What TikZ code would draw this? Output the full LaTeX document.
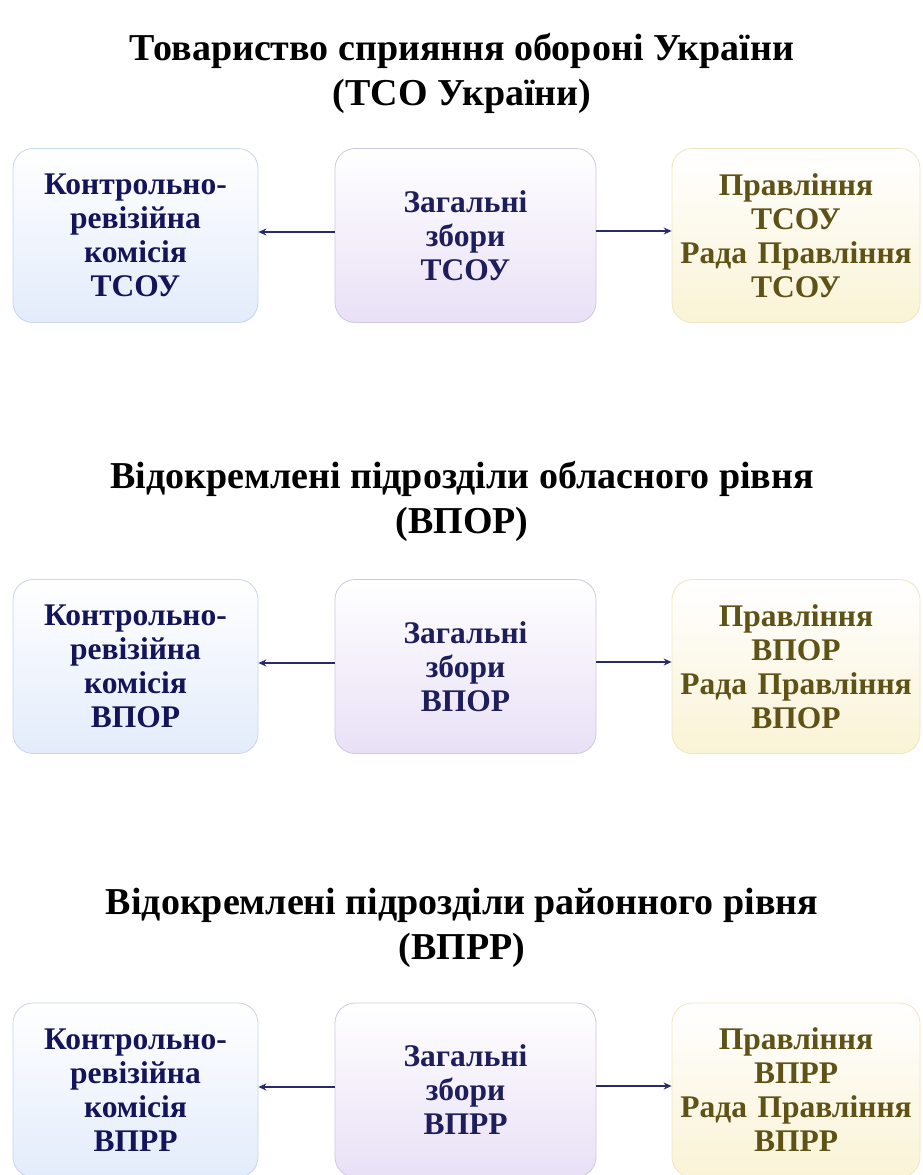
\documentclass[tikz,border=0pt]{standalone}
\usepackage{fontspec}
\setmainfont{Liberation Serif}
\usetikzlibrary{arrows.meta}
\definecolor{bluetxt}{HTML}{14145A}
\definecolor{midtxt}{HTML}{1E1E5C}
\definecolor{oltxt}{HTML}{5E5216}
\definecolor{arrowc}{HTML}{2A2A6A}
\definecolor{lbot}{HTML}{E3ECFB}
\definecolor{ldraw}{HTML}{C9D5E9}
\definecolor{mbot}{HTML}{E9E0F6}
\definecolor{mdraw}{HTML}{D0C8DF}
\definecolor{rbot}{HTML}{FAF3D6}
\definecolor{rdraw}{HTML}{EEE6C2}
\tikzset{
  box/.style={draw, rounded corners=20pt, line width=0.8pt, minimum height=174pt,
    align=center, font=\fontsize{31.5}{34}\selectfont\bfseries, inner sep=0pt},
  lbox/.style={box, minimum width=245pt, text width=245pt, top color=white, bottom color=lbot, draw=ldraw, text=bluetxt},
  mbox/.style={box, minimum width=261pt, text width=261pt, top color=white, bottom color=mbot, draw=mdraw, text=midtxt},
  rbox/.style={box, minimum width=248pt, text width=248pt, top color=white, bottom color=rbot, draw=rdraw, text=oltxt},
  title/.style={align=center, font=\fontsize{38}{45}\selectfont\bfseries, text=black},
  conn/.style={draw=arrowc, line width=1.2pt, -{Stealth[length=8pt,width=7pt]}}
}
\begin{document}
\begin{tikzpicture}[x=1pt,y=-1pt]
\useasboundingbox (0,0) rectangle (923,1175);
\fill[white] (0,0) rectangle (923,1175);
% row 1
\node[title] (t1) at (462,73) {Товариство сприяння обороні України\\(ТСО України)};
\node[lbox] (l1) at (135.5,235.5) {Контрольно-\\ревізійна\\комісія\\ТСОУ};
\node[mbox] (m1) at (465.5,235.5) {Загальні\\збори\\ТСОУ};
\node[rbox] (r1) at (796,235.5) {Правління\\ТСОУ\\Рада Правління\\ТСОУ};
\draw[conn] (m1.west |- 0,232) -- (l1.east |- 0,232);
\draw[conn] (m1.east |- 0,231) -- (r1.west |- 0,231);
% row 2
\node[title] (t2) at (462,501) {Відокремлені підрозділи обласного рівня\\(ВПОР)};
\node[lbox] (l2) at (135.5,666.5) {Контрольно-\\ревізійна\\комісія\\ВПОР};
\node[mbox] (m2) at (465.5,666.5) {Загальні\\збори\\ВПОР};
\node[rbox] (r2) at (796,666.5) {Правління\\ВПОР\\Рада Правління\\ВПОР};
\draw[conn] (m2.west |- 0,663) -- (l2.east |- 0,663);
\draw[conn] (m2.east |- 0,662) -- (r2.west |- 0,662);
% row 3
\node[title] (t3) at (462,928) {Відокремлені підрозділи районного рівня\\(ВПРР)};
\node[lbox] (l3) at (135.5,1090) {Контрольно-\\ревізійна\\комісія\\ВПРР};
\node[mbox] (m3) at (465.5,1090) {Загальні\\збори\\ВПРР};
\node[rbox] (r3) at (796,1090) {Правління\\ВПРР\\Рада Правління\\ВПРР};
\draw[conn] (m3.west |- 0,1087) -- (l3.east |- 0,1087);
\draw[conn] (m3.east |- 0,1086) -- (r3.west |- 0,1086);
\end{tikzpicture}
\end{document}
